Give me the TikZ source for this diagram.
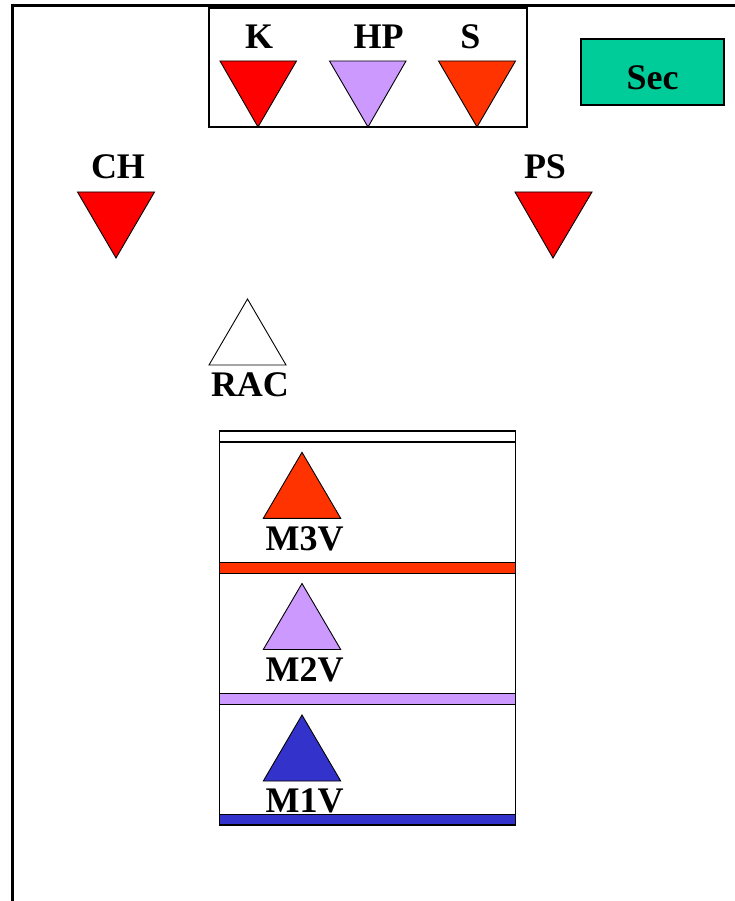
\documentclass[tikz,border=0pt]{standalone}
\usepackage{fontspec}
\setmainfont{Liberation Serif}
\definecolor{cRed}{HTML}{FF0000}
\definecolor{cOrange}{HTML}{FF3300}
\definecolor{cLilac}{HTML}{CC99FF}
\definecolor{cGreen}{HTML}{00CC99}
\definecolor{cBlue}{HTML}{3333CC}
\begin{document}
\begin{tikzpicture}[x=1pt,y=-1pt,
  tri/.style={draw=black, line width=0.9pt, line join=miter},
  boxline/.style={draw=black, line width=1.2pt},
  frameline/.style={draw=black, line width=3pt},
  lbl/.style={font=\bfseries\fontsize{36}{36}\selectfont, inner sep=0pt, anchor=base},
  secbox/.style={draw=black, line width=1.2pt, fill=cGreen, minimum width=143pt, minimum height=66pt, inner sep=0pt, text height=36pt, text depth=0pt, font=\bfseries\fontsize{36}{36}\selectfont}]
\useasboundingbox (0,0) rectangle (735,901);
% outer frame
\coordinate (fTR) at (735,6);
\coordinate (fTL) at (12,6);
\coordinate (fBL) at (12,901);
\draw[frameline] (fTR) -- (fTL) -- (fBL);
% top box
\draw[boxline] (209,8) rectangle (527,127);
\draw[tri, fill=cRed] (220,61) -- (296.5,61) -- (258,127) -- cycle;
\draw[tri, fill=cLilac] (329.5,61) -- (406,61) -- (368,127) -- cycle;
\draw[tri, fill=cOrange] (438.5,61) -- (515.5,61) -- (477,127) -- cycle;
\node[lbl] (K) at (259,49) {K};
\node[lbl] (HP) at (378.5,49) {HP};
\node[lbl] (S) at (470.5,49) {S};
% Sec
\node[secbox] (Sec) at (652.5,72) {Sec};
% CH and PS
\draw[tri, fill=cRed] (77.5,192) -- (154.5,192) -- (116,258) -- cycle;
\draw[tri, fill=cRed] (515,192) -- (592,192) -- (553,258) -- cycle;
\node[lbl] (CH) at (118,179) {CH};
\node[lbl] (PS) at (545,179) {PS};
% RAC
\draw[tri, fill=white] (209,365) -- (286,365) -- (247.5,299) -- cycle;
\node[lbl] (RAC) at (250,396) {RAC};
% stack
\draw[boxline] (219.5,431) rectangle (515.5,825);
\draw[boxline] (219.5,442) -- (515.5,442);
\draw[boxline, fill=cOrange] (219.5,562.5) rectangle (515.5,573.5);
\draw[boxline, fill=cLilac] (219.5,693.5) rectangle (515.5,704.5);
\draw[boxline, fill=cBlue] (219.5,814.5) rectangle (515.5,825);
\draw[tri, fill=cOrange] (263.3,518.3) -- (340.7,518.3) -- (302,452.3) -- cycle;
\draw[tri, fill=cLilac] (263.3,649.5) -- (340.7,649.5) -- (302,583.5) -- cycle;
\draw[tri, fill=cBlue] (263.3,781) -- (340.7,781) -- (302,715) -- cycle;
\node[lbl] (M3V) at (304.5,550) {M3V};
\node[lbl] (M2V) at (304.5,681) {M2V};
\node[lbl] (M1V) at (304.5,812) {M1V};
\end{tikzpicture}
\end{document}
